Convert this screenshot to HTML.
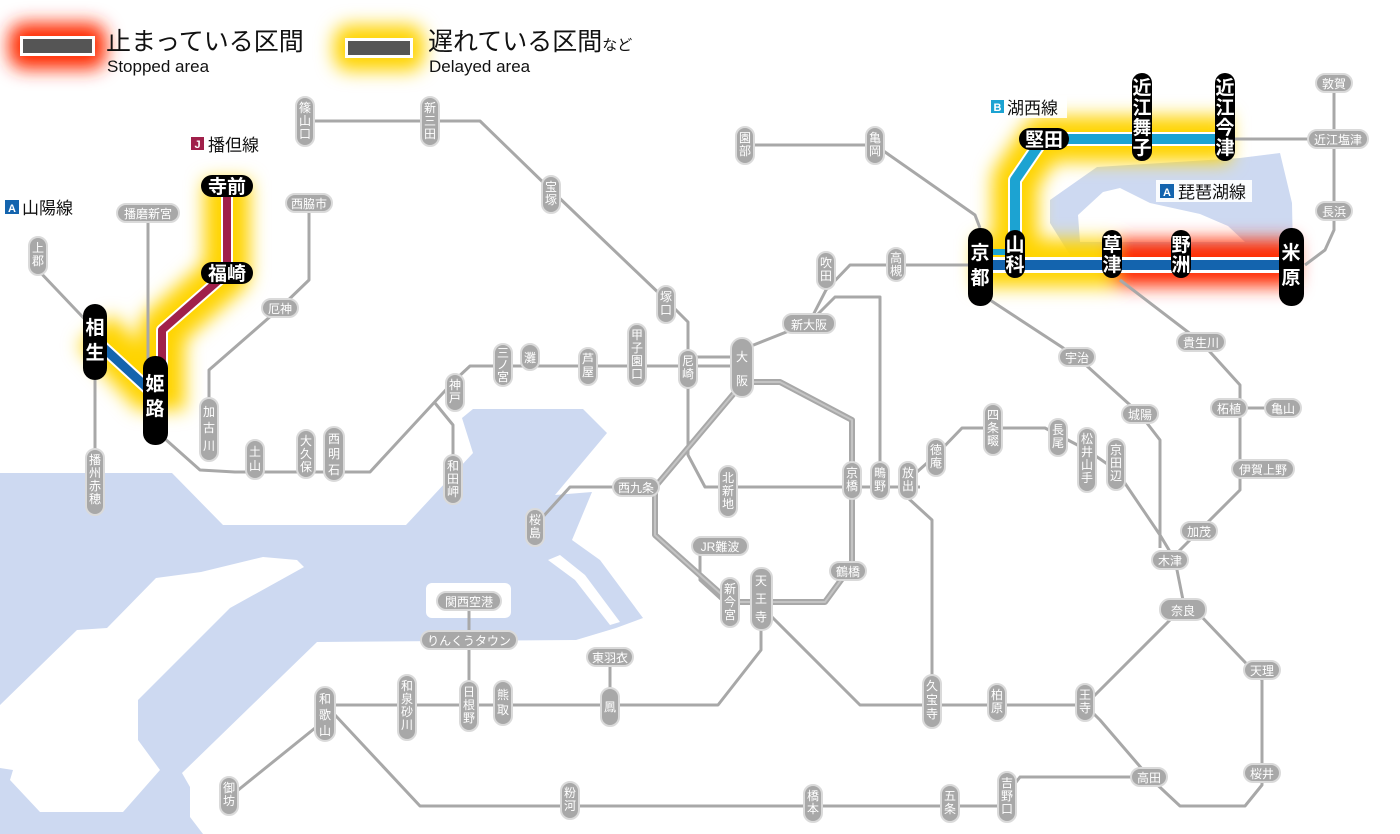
<!DOCTYPE html>
<html><head><meta charset="utf-8">
<style>
body{margin:0;background:#fff;}
svg{display:block;font-family:"Liberation Sans","Noto Sans CJK JP",sans-serif;}
.g rect{fill:#a8a8a8;stroke:#dadada;stroke-width:2}
.g text{fill:#fff;font-size:12px;text-anchor:middle}
.b rect{fill:#000}
.b text{fill:#fff;font-size:19px;text-anchor:middle;font-weight:bold}
.ln{fill:none;stroke:#a8a8a8;stroke-width:3;stroke-linejoin:round}
</style></head><body>
<svg width="1400" height="834" viewBox="0 0 1400 834" xmlns="http://www.w3.org/2000/svg">
<defs>
<filter id="bl" filterUnits="userSpaceOnUse" x="0" y="0" width="1400" height="834"><feGaussianBlur stdDeviation="9"/></filter>
<filter id="bl2" filterUnits="userSpaceOnUse" x="0" y="0" width="1400" height="834"><feGaussianBlur stdDeviation="9"/></filter>
</defs>
<!-- water -->
<polygon fill="#cdd9f1" points="0,473 172,473 223,525 406,525 473,453 462,418 473,409 583,409 607,433 555,495 592,492 572,540 600,560 643,618 616,628 576,640 317,642 182,773 190,787 190,817 203,834 0,834"/>
<polygon fill="#fff" points="0,705 77,630 107,628 156,578 201,572 263,557 297,560 304,567 230,608 138,700 138,740 160,770 123,812 40,812 10,780 13,770 0,768"/>
<rect x="426" y="583" width="85" height="35" rx="6" fill="#fff"/>
<polygon fill="#fff" points="548,560 575,580 610,625 620,622 585,575 560,555"/>
<polygon fill="#cdd9f1" points="1097,167 1240,158 1280,153 1292,203 1293,255 1070,255 1050,223 1050,200"/>
<polygon fill="#fff" points="1103,192 1120,188 1150,203 1200,214 1228,226 1245,242 1080,242 1078,215"/>

<!-- glows -->
<g filter="url(#bl)">
<polyline points="227,180 227,273 162,330 162,410" fill="none" stroke="#ffd400" stroke-width="46" stroke-linejoin="round"/>
<polyline points="95,330 155,395" fill="none" stroke="#ffd400" stroke-width="46"/>
<polyline points="975,263 1112,263" fill="none" stroke="#ffd400" stroke-width="48"/>
<polyline points="1015,263 1015,180 1043,139 1230,139" fill="none" stroke="#ffd400" stroke-width="46" stroke-linejoin="round"/>
<polyline points="1112,263 1296,263" fill="none" stroke="#ff2a00" stroke-width="46"/>
</g>
<g filter="url(#bl2)">
<rect x="24" y="38" width="67" height="16" fill="#ff2a00" stroke="#ff2a00" stroke-width="30" stroke-linejoin="round"/>
<rect x="349" y="40" width="60" height="16" fill="#ffd400" stroke="#ffd400" stroke-width="30" stroke-linejoin="round"/>
</g>
<!-- legend -->
<rect x="20" y="36" width="75" height="20" fill="#fff"/>
<rect x="23" y="39" width="69" height="14" fill="#555"/>
<rect x="345" y="38" width="68" height="20" fill="#fff"/>
<rect x="348" y="41" width="62" height="14" fill="#555"/>
<text x="106" y="50" font-size="25" fill="#111">止まっている区間</text>
<text x="107" y="72" font-size="17" fill="#111">Stopped area</text>
<text x="428" y="50" font-size="25" fill="#111">遅れている区間<tspan font-size="15">など</tspan></text>
<text x="429" y="72" font-size="17" fill="#111">Delayed area</text>

<!-- gray lines -->
<g class="ln">
<polyline points="38,270 95,330"/>
<polyline points="95,380 95,450"/>
<polyline points="148,220 148,360"/>
<polyline points="155,430 200,470 235,472 370,472 455,380 470,366 741,366"/>
<polyline points="435,403 453,425 453,455"/>
<polyline points="209,400 209,370 280,308 309,280 309,210"/>
<polyline points="305,121 480,121 551,190 666,300 688,322 688,455 705,487 880,487 920,487"/>
<polyline points="688,357 741,357"/>
<polyline points="741,350 809,323 826,290 850,265 980,265"/>
<polyline points="809,323 835,297 880,297 880,470"/>
<polyline points="636,487 570,487 540,520"/>
<polyline points="700,546 700,580 722,600"/>
<polyline points="761,620 761,650 718,705 325,705"/>
<polyline points="610,665 610,700"/>
<polyline points="469,601 469,700"/>
<polyline points="325,720 232,795"/>
<polyline points="335,715 420,806 1000,806 1010,790 1020,777 1149,777"/>
<polyline points="1149,777 1100,720 1085,705"/>
<polyline points="1149,777 1180,806 1245,806 1262,785 1262,680 1200,615"/>
<polyline points="770,615 860,705 1085,705 1170,620"/>
<polyline points="908,498 932,520 932,690"/>
<polyline points="908,480 936,455 962,428 1045,428 1087,450 1116,470 1160,535 1175,560 1183,600"/>
<polyline points="990,300 1077,357 1140,414 1160,440 1160,548"/>
<polyline points="1170,560 1199,531 1240,490 1240,408 1283,408"/>
<polyline points="1120,280 1201,342 1240,385 1240,408"/>
<polyline points="1305,265 1325,250 1334,230 1334,83"/>
<polyline points="1225,139 1334,139"/>
<polyline points="745,145 875,145 975,215 980,228"/>
</g>
<!-- osaka loop -->
<polyline points="741,382 780,382 852,420 852,565 825,602 730,602 655,535 655,487 741,385" fill="none" stroke="#a8a8a8" stroke-width="6" stroke-linejoin="round"/>
<polyline points="741,382 780,382 852,420 852,565 825,602 730,602 655,535 655,487 741,385" fill="none" stroke="#c4c4c4" stroke-width="2" stroke-linejoin="round"/>

<!-- colored lines -->
<polyline points="227,186 227,273 162,330 162,400" fill="none" stroke="#fff" stroke-width="12" stroke-linejoin="round"/>
<polyline points="227,186 227,273 162,330 162,400" fill="none" stroke="#a0204a" stroke-width="8" stroke-linejoin="round"/>
<polyline points="95,340 155,395" fill="none" stroke="#fff" stroke-width="13"/>
<polyline points="95,340 155,395" fill="none" stroke="#1464ae" stroke-width="9"/>
<polyline points="1015,263 1015,180 1043,139 1225,139" fill="none" stroke="#fff" stroke-width="14" stroke-linejoin="round"/>
<polyline points="1015,263 1015,180 1043,139 1225,139" fill="none" stroke="#1ca3d2" stroke-width="10" stroke-linejoin="round"/>
<polyline points="980,252 1015,252" fill="none" stroke="#1ca3d2" stroke-width="6"/>
<polyline points="980,265 1291,265" fill="none" stroke="#fff" stroke-width="16"/>
<polyline points="980,265 1291,265" fill="none" stroke="#1464ae" stroke-width="10"/>

<!-- gray stations vertical -->
<g class="g">
<rect x="296" y="97" width="18" height="49" rx="9"/><text x="305" y="112">篠</text><text x="305" y="125">山</text><text x="305" y="138">口</text>
<rect x="421" y="97" width="18" height="49" rx="9"/><text x="430" y="112">新</text><text x="430" y="125">三</text><text x="430" y="138">田</text>
<rect x="542" y="176" width="18" height="37" rx="9"/><text x="551" y="191">宝</text><text x="551" y="204">塚</text>
<rect x="736" y="127" width="18" height="37" rx="9"/><text x="745" y="142">園</text><text x="745" y="155">部</text>
<rect x="866" y="127" width="18" height="37" rx="9"/><text x="875" y="142">亀</text><text x="875" y="155">岡</text>
<rect x="817" y="252" width="18" height="37" rx="9"/><text x="826" y="267">吹</text><text x="826" y="280">田</text>
<rect x="887" y="248" width="18" height="33" rx="9"/><text x="896" y="262" font-size="10">高</text><text x="896" y="275" font-size="10">槻</text>
<rect x="657" y="286" width="18" height="37" rx="9"/><text x="666" y="301">塚</text><text x="666" y="314">口</text>
<rect x="628" y="324" width="18" height="62" rx="9"/><text x="637" y="339">甲</text><text x="637" y="352">子</text><text x="637" y="365">園</text><text x="637" y="378">口</text>
<rect x="579" y="348" width="18" height="37" rx="9"/><text x="588" y="363">芦</text><text x="588" y="376">屋</text>
<rect x="521" y="344" width="18" height="26" rx="9"/><text x="530" y="362">灘</text>
<rect x="494" y="344" width="18" height="42" rx="9"/><text x="503" y="357" font-size="11">三</text><text x="503" y="369" font-size="11">ノ</text><text x="503" y="381" font-size="11">宮</text>
<rect x="446" y="374" width="18" height="37" rx="9"/><text x="455" y="389">神</text><text x="455" y="402">戸</text>
<rect x="679" y="350" width="18" height="38" rx="9"/><text x="688" y="365">尼</text><text x="688" y="378">崎</text>
<rect x="731" y="338" width="22" height="59" rx="11"/><text x="742" y="361" font-size="17">大</text><text x="742" y="385" font-size="17">阪</text>
<rect x="29" y="237" width="18" height="38" rx="9"/><text x="38" y="252">上</text><text x="38" y="265">郡</text>
<rect x="86" y="449" width="18" height="66" rx="9"/><text x="95" y="464">播</text><text x="95" y="477">州</text><text x="95" y="490">赤</text><text x="95" y="503">穂</text>
<rect x="200" y="398" width="18" height="63" rx="9"/><text x="209" y="416">加</text><text x="209" y="432">古</text><text x="209" y="450">川</text>
<rect x="246" y="440" width="18" height="39" rx="9"/><text x="255" y="456">土</text><text x="255" y="470">山</text>
<rect x="297" y="430" width="18" height="48" rx="9"/><text x="306" y="445">大</text><text x="306" y="458">久</text><text x="306" y="471">保</text>
<rect x="324" y="427" width="20" height="54" rx="10"/><text x="334" y="443" font-size="14">西</text><text x="334" y="458" font-size="14">明</text><text x="334" y="474" font-size="14">石</text>
<rect x="444" y="455" width="18" height="49" rx="9"/><text x="453" y="470">和</text><text x="453" y="483">田</text><text x="453" y="496">岬</text>
<rect x="526" y="509" width="18" height="37" rx="9"/><text x="535" y="524">桜</text><text x="535" y="537">島</text>
<rect x="719" y="466" width="18" height="51" rx="9"/><text x="728" y="482">北</text><text x="728" y="495">新</text><text x="728" y="508">地</text>
<rect x="843" y="462" width="18" height="37" rx="9"/><text x="852" y="477">京</text><text x="852" y="490">橋</text>
<rect x="871" y="462" width="18" height="37" rx="9"/><text x="880" y="477">鴫</text><text x="880" y="490">野</text>
<rect x="899" y="462" width="18" height="37" rx="9"/><text x="908" y="477">放</text><text x="908" y="490">出</text>
<rect x="927" y="439" width="18" height="37" rx="9"/><text x="936" y="454">徳</text><text x="936" y="467">庵</text>
<rect x="984" y="404" width="18" height="51" rx="9"/><text x="993" y="419">四</text><text x="993" y="432">条</text><text x="993" y="445">畷</text>
<rect x="1049" y="419" width="18" height="37" rx="9"/><text x="1058" y="434">長</text><text x="1058" y="447">尾</text>
<rect x="1078" y="428" width="18" height="64" rx="9"/><text x="1087" y="443">松</text><text x="1087" y="456">井</text><text x="1087" y="469">山</text><text x="1087" y="482">手</text>
<rect x="1107" y="439" width="18" height="51" rx="9"/><text x="1116" y="454">京</text><text x="1116" y="467">田</text><text x="1116" y="480">辺</text>
<rect x="721" y="578" width="18" height="49" rx="9"/><text x="730" y="593">新</text><text x="730" y="606">今</text><text x="730" y="619">宮</text>
<rect x="751" y="568" width="21" height="62" rx="10"/><text x="761" y="585" font-size="15">天</text><text x="761" y="603" font-size="15">王</text><text x="761" y="621" font-size="15">寺</text>
<rect x="601" y="688" width="18" height="38" rx="9"/><text x="610" y="711">鳳</text>
<rect x="315" y="687" width="20" height="54" rx="10"/><text x="325" y="703" font-size="14">和</text><text x="325" y="719" font-size="14">歌</text><text x="325" y="735" font-size="14">山</text>
<rect x="398" y="675" width="18" height="65" rx="9"/><text x="407" y="690">和</text><text x="407" y="703">泉</text><text x="407" y="716">砂</text><text x="407" y="729">川</text>
<rect x="460" y="681" width="18" height="50" rx="9"/><text x="469" y="696">日</text><text x="469" y="709">根</text><text x="469" y="722">野</text>
<rect x="494" y="681" width="18" height="44" rx="9"/><text x="503" y="699">熊</text><text x="503" y="714">取</text>
<rect x="220" y="777" width="18" height="38" rx="9"/><text x="229" y="792">御</text><text x="229" y="805">坊</text>
<rect x="561" y="782" width="18" height="37" rx="9"/><text x="570" y="797">粉</text><text x="570" y="810">河</text>
<rect x="804" y="785" width="18" height="37" rx="9"/><text x="813" y="800">橋</text><text x="813" y="813">本</text>
<rect x="941" y="785" width="18" height="37" rx="9"/><text x="950" y="800">五</text><text x="950" y="813">条</text>
<rect x="998" y="772" width="18" height="50" rx="9"/><text x="1007" y="787">吉</text><text x="1007" y="800">野</text><text x="1007" y="813">口</text>
<rect x="923" y="675" width="18" height="53" rx="9"/><text x="932" y="690">久</text><text x="932" y="704">宝</text><text x="932" y="718">寺</text>
<rect x="988" y="684" width="18" height="37" rx="9"/><text x="997" y="699">柏</text><text x="997" y="712">原</text>
<rect x="1076" y="684" width="18" height="37" rx="9"/><text x="1085" y="699">王</text><text x="1085" y="712">寺</text>
</g>
<!-- gray horizontal -->
<g class="g">
<rect x="286" y="194" width="46" height="18" rx="9"/><text x="309" y="208">西脇市</text>
<rect x="117" y="204" width="62" height="18" rx="9"/><text x="148" y="218">播磨新宮</text>
<rect x="262" y="299" width="36" height="18" rx="9"/><text x="280" y="313">厄神</text>
<rect x="783" y="314" width="52" height="19" rx="9"/><text x="809" y="329" font-size="13">新大阪</text>
<rect x="613" y="478" width="46" height="18" rx="9"/><text x="636" y="492">西九条</text>
<rect x="692" y="537" width="56" height="18" rx="9"/><text x="720" y="551">JR難波</text>
<rect x="830" y="562" width="36" height="18" rx="9"/><text x="848" y="576">鶴橋</text>
<rect x="437" y="592" width="64" height="18" rx="9"/><text x="469" y="606">関西空港</text>
<rect x="421" y="631" width="96" height="18" rx="9"/><text x="469" y="645">りんくうタウン</text>
<rect x="587" y="648" width="46" height="18" rx="9"/><text x="610" y="662">東羽衣</text>
<rect x="1059" y="348" width="36" height="18" rx="9"/><text x="1077" y="362">宇治</text>
<rect x="1122" y="405" width="36" height="18" rx="9"/><text x="1140" y="419">城陽</text>
<rect x="1177" y="333" width="48" height="18" rx="9"/><text x="1201" y="347">貴生川</text>
<rect x="1211" y="399" width="36" height="18" rx="9"/><text x="1229" y="413">柘植</text>
<rect x="1265" y="399" width="36" height="18" rx="9"/><text x="1283" y="413">亀山</text>
<rect x="1232" y="460" width="62" height="18" rx="9"/><text x="1263" y="474">伊賀上野</text>
<rect x="1181" y="522" width="36" height="18" rx="9"/><text x="1199" y="536">加茂</text>
<rect x="1152" y="551" width="36" height="18" rx="9"/><text x="1170" y="565">木津</text>
<rect x="1160" y="599" width="46" height="21" rx="10"/><text x="1183" y="615" font-size="14">奈良</text>
<rect x="1244" y="661" width="36" height="18" rx="9"/><text x="1262" y="675">天理</text>
<rect x="1131" y="768" width="36" height="18" rx="9"/><text x="1149" y="782">高田</text>
<rect x="1244" y="764" width="36" height="18" rx="9"/><text x="1262" y="778">桜井</text>
<rect x="1316" y="74" width="36" height="18" rx="9"/><text x="1334" y="88">敦賀</text>
<rect x="1308" y="130" width="60" height="18" rx="9"/><text x="1338" y="144">近江塩津</text>
<rect x="1316" y="202" width="36" height="18" rx="9"/><text x="1334" y="216">長浜</text>
</g>

<!-- black stations -->
<g class="b">
<rect x="201" y="175" width="52" height="22" rx="11"/><text x="227" y="193" font-size="16">寺前</text>
<rect x="201" y="262" width="52" height="22" rx="11"/><text x="227" y="280" font-size="16">福崎</text>
<rect x="83" y="304" width="24" height="76" rx="12"/><text x="95" y="334" font-size="21">相</text><text x="95" y="359" font-size="21">生</text>
<rect x="143" y="356" width="25" height="89" rx="12"/><text x="155" y="390" font-size="21">姫</text><text x="155" y="415" font-size="21">路</text>
<rect x="968" y="228" width="25" height="78" rx="12"/><text x="980" y="259" font-size="21">京</text><text x="980" y="284" font-size="21">都</text>
<rect x="1005" y="230" width="20" height="48" rx="10"/><text x="1015" y="251" font-size="17">山</text><text x="1015" y="271" font-size="17">科</text>
<rect x="1102" y="230" width="20" height="48" rx="10"/><text x="1112" y="251" font-size="17">草</text><text x="1112" y="271" font-size="17">津</text>
<rect x="1171" y="230" width="20" height="48" rx="10"/><text x="1181" y="251" font-size="17">野</text><text x="1181" y="271" font-size="17">洲</text>
<rect x="1279" y="228" width="25" height="78" rx="12"/><text x="1291" y="259" font-size="21">米</text><text x="1291" y="284" font-size="21">原</text>
<rect x="1019" y="128" width="50" height="22" rx="11"/><text x="1044" y="146" font-size="16">堅田</text>
<rect x="1132" y="73" width="20" height="88" rx="10"/><text x="1142" y="94" font-size="17">近</text><text x="1142" y="114" font-size="17">江</text><text x="1142" y="134" font-size="17">舞</text><text x="1142" y="154" font-size="17">子</text>
<rect x="1215" y="73" width="20" height="88" rx="10"/><text x="1225" y="94" font-size="17">近</text><text x="1225" y="114" font-size="17">江</text><text x="1225" y="134" font-size="17">今</text><text x="1225" y="154" font-size="17">津</text>
</g>

<!-- line labels -->
<rect x="186" y="133" width="82" height="22" fill="#fff" opacity="0.9"/>
<rect x="191" y="137" width="13" height="13" fill="#a0204a"/><text x="197.5" y="148" font-size="11" fill="#fff" text-anchor="middle" font-weight="bold">J</text>
<text x="208" y="151" font-size="17" fill="#111">播但線</text>
<rect x="2" y="196" width="78" height="22" fill="#fff" opacity="0.9"/>
<rect x="5" y="200" width="14" height="14" fill="#1464ae"/><text x="12" y="212" font-size="11" fill="#fff" text-anchor="middle" font-weight="bold">A</text>
<text x="22" y="214" font-size="17" fill="#111">山陽線</text>
<rect x="987" y="96" width="80" height="22" fill="#fff" opacity="0.9"/>
<rect x="991" y="100" width="13" height="13" fill="#1ca3d2"/><text x="997.5" y="111" font-size="11" fill="#fff" text-anchor="middle" font-weight="bold">B</text>
<text x="1007" y="114" font-size="17" fill="#111">湖西線</text>
<rect x="1156" y="180" width="96" height="22" fill="#fff" opacity="0.9"/>
<rect x="1160" y="184" width="14" height="14" fill="#1464ae"/><text x="1167" y="196" font-size="11" fill="#fff" text-anchor="middle" font-weight="bold">A</text>
<text x="1178" y="198" font-size="17" fill="#111">琵琶湖線</text>
</svg>
</body></html>
